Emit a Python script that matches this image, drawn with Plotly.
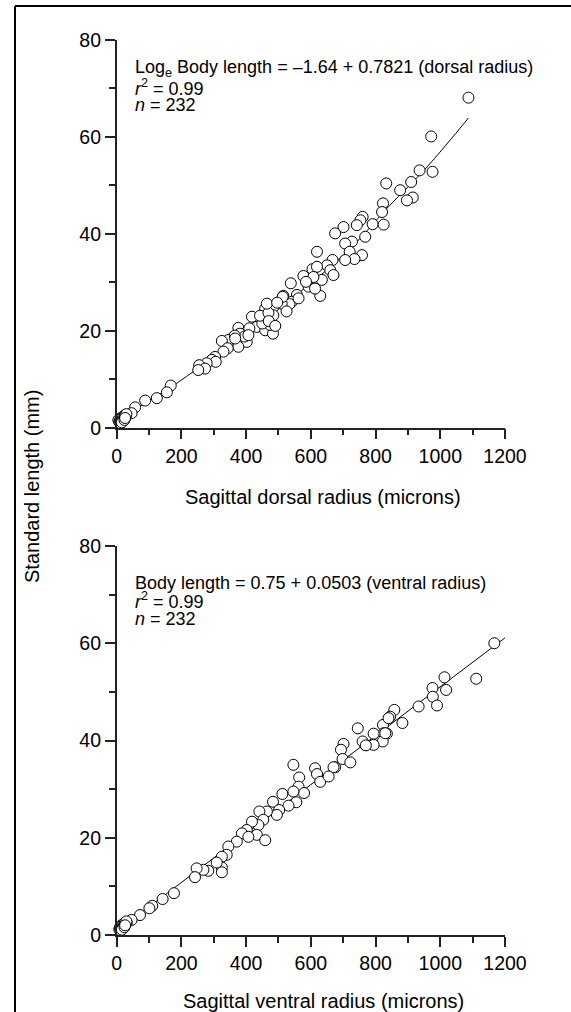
import plotly.graph_objects as go

# ---------------- data ----------------
dorsal_x = [1087, 972, 976, 936, 910, 833, 876, 915, 897, 823, 820, 760, 753, 791, 825, 742,
            701, 675, 768, 727, 706, 720, 758, 735, 706, 619, 667, 650, 660, 670, 605, 619,
            577, 634, 608, 593, 629, 613, 585, 538, 515, 557, 541, 534, 510, 562, 513, 484,
            459, 484, 453, 418, 433, 459, 483, 474, 450, 443, 469, 464, 496, 525, 470, 490,
            376, 402, 381, 356, 345, 325, 402, 376, 343, 330, 395, 410, 365, 366, 407,
            304, 294, 306, 278, 255, 273, 252, 167, 155, 124, 88, 57, 46, 26, 20, 10, 5,
            8, 10, 12, 14, 15, 18, 20, 22, 25, 28, 30, 12, 16, 24, 26]
dorsal_y = [68.1, 60.1, 52.8, 53.1, 50.7, 50.4, 49.0, 47.5, 46.9, 46.3, 44.5, 43.5, 42.8, 42.0, 41.9, 41.8,
            41.4, 40.1, 39.4, 38.4, 38.0, 36.3, 35.6, 34.8, 34.6, 36.3, 34.6, 33.5, 32.5, 31.5, 32.7, 33.2,
            31.3, 30.5, 31.1, 29.1, 27.2, 28.7, 30.1, 29.8, 27.2, 27.4, 26.0, 25.5, 25.6, 26.7, 27.0, 24.9,
            24.6, 23.2, 22.5, 22.9, 20.8, 20.1, 19.4, 21.2, 21.5, 23.1, 23.7, 25.6, 25.8, 24.0, 22.0, 21.0,
            20.6, 19.8, 19.4, 18.4, 18.1, 17.9, 17.7, 16.7, 16.4, 15.7, 18.8, 20.5, 19.0, 18.4, 19.1,
            14.6, 14.0, 13.6, 13.3, 12.9, 12.2, 11.9, 8.7, 7.3, 6.1, 5.6, 4.2, 3.0, 2.6, 2.3, 1.9, 1.6,
            1.2, 1.5, 1.8, 1.3, 2.0, 1.7, 2.2, 1.9, 2.5, 2.3, 2.8, 0.9, 1.1, 1.6, 2.0]

dorsal_fit_x = [8, 51, 186, 450, 701, 840, 959, 1087]
dorsal_fit_y = [0.8, 3.4, 9.2, 22.0, 35.6, 45.6, 53.8, 63.9]

ventral_x = [1167, 1111, 1013, 1018, 976, 977, 990, 933, 858, 883, 845, 823, 745, 825, 794, 835,
             822, 794, 768, 760, 701, 693, 698, 722, 675, 840, 830, 770, 670, 613, 619, 629,
             655, 546, 564, 562, 579, 546, 555, 531, 512, 483, 502, 495, 464, 441, 453, 438,
             418, 402, 387, 433, 459, 407, 371, 345, 340, 325, 325, 325, 309, 283, 268, 247,
             242, 177, 142, 110, 101, 72, 46, 31, 26,
             8, 10, 12, 14, 15, 18, 20, 22, 25, 28, 30, 12, 16, 24, 26]
ventral_y = [60.0, 52.7, 53.0, 50.4, 50.8, 49.0, 47.2, 47.0, 46.3, 43.6, 44.9, 43.2, 42.5, 41.5, 41.4, 41.4,
             39.8, 39.1, 39.1, 39.8, 39.3, 38.1, 36.2, 35.5, 34.5, 44.6, 41.5, 39.0, 34.5, 34.3, 33.1, 31.5,
             32.6, 35.0, 32.4, 30.5, 29.2, 29.5, 27.3, 26.6, 29.0, 27.4, 25.7, 24.7, 25.4, 25.4, 23.7, 22.6,
             23.3, 21.6, 20.9, 20.6, 19.5, 20.2, 19.2, 18.2, 16.5, 16.1, 13.9, 12.9, 14.9, 13.2, 13.4, 13.7,
             11.9, 8.6, 7.4, 6.0, 5.5, 4.1, 3.1, 2.5, 2.1,
             1.2, 1.5, 1.8, 1.3, 2.0, 1.7, 2.2, 1.9, 2.5, 2.3, 2.8, 0.9, 1.1, 1.6, 2.0]

ventral_intercept = 0.75
ventral_slope = 0.0503
ventral_fit_x = [10, 1200]
ventral_fit_y = [ventral_intercept + ventral_slope * v for v in ventral_fit_x]

x_ticks = [0, 200, 400, 600, 800, 1000, 1200]
y_ticks = [0, 20, 40, 60, 80]

FONT = "Liberation Sans, Arial, Helvetica, sans-serif"
W, H = 571, 1012

fig = go.Figure()

marker = dict(size=11, color="white", line=dict(color="black", width=1))

fig.add_trace(go.Scatter(x=dorsal_fit_x, y=dorsal_fit_y, mode="lines", line=dict(color="black", width=1, shape="spline"),
                         xaxis="x", yaxis="y", showlegend=False, hoverinfo="skip"))
fig.add_trace(go.Scatter(x=dorsal_x, y=dorsal_y, mode="markers", marker=marker, cliponaxis=False,
                         xaxis="x", yaxis="y", showlegend=False))
fig.add_trace(go.Scatter(x=ventral_fit_x, y=ventral_fit_y, mode="lines", line=dict(color="black", width=1),
                         xaxis="x2", yaxis="y2", showlegend=False, hoverinfo="skip"))
fig.add_trace(go.Scatter(x=ventral_x, y=ventral_y, mode="markers", marker=marker, cliponaxis=False,
                         xaxis="x2", yaxis="y2", showlegend=False))

def py(p):
    return (H - p) / H

def pxx(p):
    return p / W

xdom = [pxx(116.7), pxx(505)]
top_dom = [py(427.7), py(40)]
bot_dom = [py(935), py(546)]

tickfont = dict(family=FONT, size=19.5, color="black")
titlefont = dict(family=FONT, size=20, color="black")

def xaxis(dom, anchor):
    return dict(domain=dom, anchor=anchor, range=[0, 1200], tickvals=x_ticks, ticks="outside",
                ticklen=10, tickwidth=1.5, tickcolor="#222", showline=True, linecolor="#222", linewidth=1.5,
                showgrid=False, zeroline=False, tickfont=tickfont, automargin=False,
                minor=dict(dtick=100, ticks="outside", ticklen=6, tickwidth=1.5, tickcolor="#222", showgrid=False))

def yaxis(dom, anchor):
    return dict(domain=dom, anchor=anchor, range=[0, 80], tickvals=y_ticks, ticks="outside",
                ticklen=10, tickwidth=1.5, tickcolor="#222", showline=True, linecolor="#222", linewidth=1.5,
                showgrid=False, zeroline=False, tickfont=tickfont, automargin=False,
                minor=dict(dtick=10, ticks="outside", ticklen=6, tickwidth=1.5, tickcolor="#222", showgrid=False))

annfont = dict(family=FONT, size=18, color="black")
annotations = [
    dict(x=51, y=74.1, xref="x", yref="y", xanchor="left", yanchor="middle", showarrow=False, font=annfont,
         text="Log<sub>e</sub> Body length = \u20131.64 + 0.7821 (dorsal radius)"),
    dict(x=51, y=70.3, xref="x", yref="y", xanchor="left", yanchor="middle", showarrow=False, font=annfont,
         text="<i>r</i><sup>2</sup> = 0.99"),
    dict(x=51, y=66.5, xref="x", yref="y", xanchor="left", yanchor="middle", showarrow=False, font=annfont,
         text="<i>n</i> = 232"),
    dict(x=51, y=72.4, xref="x2", yref="y2", xanchor="left", yanchor="middle", showarrow=False, font=annfont,
         text="Body length = 0.75 + 0.0503 (ventral radius)"),
    dict(x=51, y=68.7, xref="x2", yref="y2", xanchor="left", yanchor="middle", showarrow=False, font=annfont,
         text="<i>r</i><sup>2</sup> = 0.99"),
    dict(x=51, y=65.0, xref="x2", yref="y2", xanchor="left", yanchor="middle", showarrow=False, font=annfont,
         text="<i>n</i> = 232"),
    dict(x=pxx(32), y=py(487), xref="paper", yref="paper", xanchor="center", yanchor="middle",
         showarrow=False, textangle=-90, font=titlefont, text="Standard length (mm)"),
    dict(x=pxx(323), y=py(497), xref="paper", yref="paper", xanchor="center", yanchor="middle",
         showarrow=False, font=titlefont, text="Sagittal dorsal radius (microns)"),
    dict(x=pxx(323), y=py(1001), xref="paper", yref="paper", xanchor="center", yanchor="middle",
         showarrow=False, font=titlefont, text="Sagittal ventral radius (microns)"),
]

shapes = [
    dict(type="line", xref="paper", yref="paper", x0=pxx(15), x1=1, y0=py(6), y1=py(6),
         line=dict(color="black", width=2)),
    dict(type="line", xref="paper", yref="paper", x0=pxx(15), x1=pxx(15), y0=py(6), y1=0,
         line=dict(color="black", width=2)),
]

fig.update_layout(
    width=W, height=H, margin=dict(l=0, r=0, t=0, b=0, autoexpand=False),
    paper_bgcolor="white", plot_bgcolor="white", showlegend=False,
    xaxis=xaxis(xdom, "y"),
    yaxis=yaxis(top_dom, "x"),
    xaxis2=xaxis(xdom, "y2"),
    yaxis2=yaxis(bot_dom, "x2"),
    annotations=annotations, shapes=shapes,
    font=dict(family=FONT, color="black"),
)

fig.write_html("out.html")
